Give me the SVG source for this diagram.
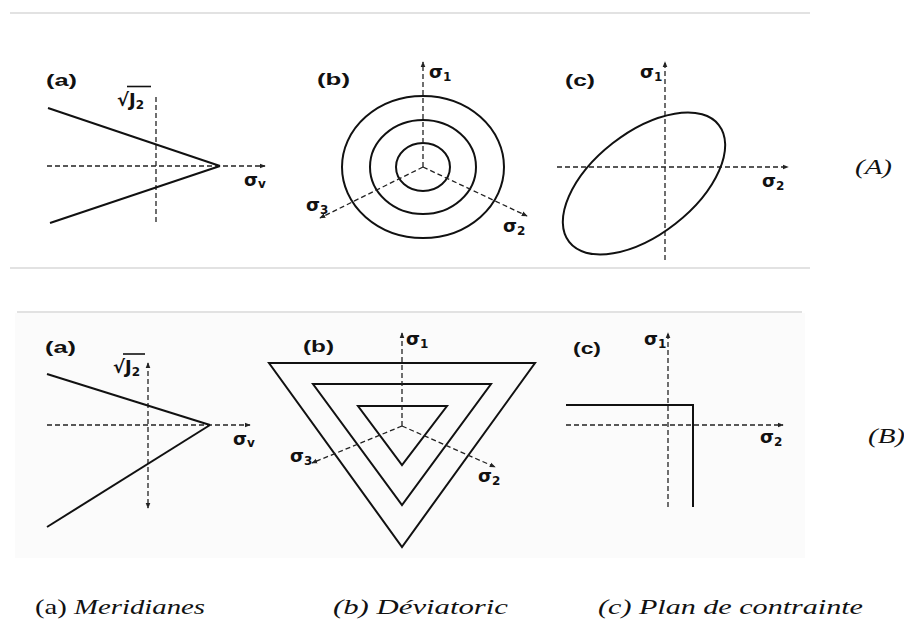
<svg xmlns="http://www.w3.org/2000/svg" width="904" height="619" viewBox="0 0 904 619">
<defs>
<marker id="ar" viewBox="0 0 8 8" refX="7" refY="4" markerWidth="6" markerHeight="6" orient="auto-start-reverse" markerUnits="userSpaceOnUse">
<path d="M0,0.8 L8,4 L0,7.2 Z" fill="#222"/>
</marker>
<style>
.sep{stroke:#e2e2e2;stroke-width:2;fill:none}
.axis{stroke:#222;stroke-width:1.3;stroke-dasharray:5 3;fill:none}
.curve{stroke:#111;stroke-width:2;fill:none}
.lbl{font-family:"Liberation Sans",Arial,sans-serif;font-weight:bold;font-size:17px;fill:#111}
.sig{font-family:"DejaVu Sans","Liberation Sans",sans-serif;font-weight:bold;font-size:18px;fill:#111}
.sub{font-size:12px}
.cap{font-family:"Liberation Serif","Times New Roman",serif;font-size:22px;fill:#111}
.it{font-style:italic}
</style>
</defs>
<rect width="904" height="619" fill="#fff"/>
<rect x="15" y="313" width="790" height="245" fill="#fbfbfb"/>
<g id="separators">
<line class="sep" x1="10" y1="13" x2="810" y2="13"/>
<line class="sep" x1="10" y1="268" x2="810" y2="268"/>
<line class="sep" x1="17" y1="312" x2="802" y2="312"/>
</g>

<!-- Panel A (a) -->
<g id="A-a">
<text class="lbl" x="46" y="86" textLength="31" lengthAdjust="spacingAndGlyphs">(a)</text>
<text class="sig" x="117" y="106">√J<tspan class="sub" dy="3">2</tspan></text>
<line x1="127" y1="86.5" x2="151" y2="86.5" stroke="#111" stroke-width="1.6"/>
<line class="axis" x1="156" y1="97" x2="156" y2="224"/>
<line class="axis" x1="47" y1="166" x2="265" y2="166" marker-end="url(#ar)"/>
<line class="curve" x1="48" y1="108" x2="220" y2="166"/>
<line class="curve" x1="50" y1="223" x2="220" y2="166"/>
<text class="sig" x="244" y="186">σ<tspan class="sub" dy="2">v</tspan></text>
</g>

<!-- Panel A (b) -->
<g id="A-b">
<text class="lbl" x="317" y="85" textLength="33" lengthAdjust="spacingAndGlyphs">(b)</text>
<ellipse class="curve" cx="423" cy="167" rx="81" ry="71"/>
<ellipse class="curve" cx="423" cy="167" rx="53" ry="47"/>
<ellipse class="curve" cx="423" cy="167" rx="27" ry="24"/>
<line class="axis" x1="423" y1="167" x2="423" y2="62" marker-end="url(#ar)"/>
<line class="axis" x1="423" y1="167" x2="320" y2="218" marker-end="url(#ar)"/>
<line class="axis" x1="423" y1="167" x2="527" y2="216" marker-end="url(#ar)"/>
<text class="sig" x="429" y="78">σ<tspan class="sub" dy="3">1</tspan></text>
<text class="sig" x="306" y="211">σ<tspan class="sub" dy="3">3</tspan></text>
<text class="sig" x="503" y="232">σ<tspan class="sub" dy="3">2</tspan></text>
</g>

<!-- Panel A (c) -->
<g id="A-c">
<text class="lbl" x="565" y="86" textLength="30" lengthAdjust="spacingAndGlyphs">(c)</text>
<line class="axis" x1="665" y1="260" x2="665" y2="62" marker-end="url(#ar)"/>
<line class="axis" x1="557" y1="167" x2="788" y2="167" marker-end="url(#ar)"/>
<ellipse class="curve" cx="0" cy="0" rx="95" ry="51" transform="translate(644 183.5) rotate(-38)"/>
<text class="sig" x="640" y="78">σ<tspan class="sub" dy="3">1</tspan></text>
<text class="sig" x="762" y="187">σ<tspan class="sub" dy="3">2</tspan></text>
<text class="cap it" x="855" y="174" textLength="37" lengthAdjust="spacingAndGlyphs">(A)</text>
</g>

<!-- Panel B (a) -->
<g id="B-a">
<text class="lbl" x="45" y="353" textLength="31" lengthAdjust="spacingAndGlyphs">(a)</text>
<text class="sig" x="113" y="373">√J<tspan class="sub" dy="3">2</tspan></text>
<line x1="123" y1="354" x2="145" y2="354" stroke="#111" stroke-width="1.6"/>
<line class="axis" x1="148" y1="363" x2="148" y2="508" marker-start="url(#ar)" marker-end="url(#ar)"/>
<line class="axis" x1="47" y1="425" x2="250" y2="425" marker-end="url(#ar)"/>
<line class="curve" x1="47" y1="374" x2="210" y2="425"/>
<line class="curve" x1="47" y1="527" x2="210" y2="425"/>
<text class="sig" x="233" y="445">σ<tspan class="sub" dy="2">v</tspan></text>
</g>

<!-- Panel B (b) -->
<g id="B-b">
<text class="lbl" x="303" y="352" textLength="31" lengthAdjust="spacingAndGlyphs">(b)</text>
<polygon class="curve" points="269,363 535,363 402,547"/>
<polygon class="curve" points="313,384 491,384 402,505"/>
<polygon class="curve" points="358,406 447,406 402,465"/>
<line class="axis" x1="402" y1="426" x2="402" y2="333" marker-end="url(#ar)"/>
<line class="axis" x1="402" y1="426" x2="312" y2="463" marker-end="url(#ar)"/>
<line class="axis" x1="402" y1="426" x2="495" y2="467" marker-end="url(#ar)"/>
<text class="sig" x="406" y="345">σ<tspan class="sub" dy="3">1</tspan></text>
<text class="sig" x="290" y="462">σ<tspan class="sub" dy="3">3</tspan></text>
<text class="sig" x="478" y="482">σ<tspan class="sub" dy="3">2</tspan></text>
</g>

<!-- Panel B (c) -->
<g id="B-c">
<text class="lbl" x="573" y="354" textLength="28" lengthAdjust="spacingAndGlyphs">(c)</text>
<line class="axis" x1="668" y1="507" x2="668" y2="333" marker-end="url(#ar)"/>
<line class="axis" x1="566" y1="425" x2="783" y2="425" marker-end="url(#ar)"/>
<polyline class="curve" points="566,405 693,405 693,507" stroke-width="1.6"/>
<text class="sig" x="644" y="345">σ<tspan class="sub" dy="3">1</tspan></text>
<text class="sig" x="760" y="443">σ<tspan class="sub" dy="3">2</tspan></text>
<text class="cap it" x="868" y="443" textLength="37" lengthAdjust="spacingAndGlyphs">(B)</text>
</g>

<!-- Captions -->
<g id="captions">
<text class="cap" x="35" y="614" textLength="170" lengthAdjust="spacingAndGlyphs">(a) <tspan class="it">Meridianes</tspan></text>
<text class="cap it" x="333" y="614" textLength="175" lengthAdjust="spacingAndGlyphs">(b)  Déviatoric</text>
<text class="cap it" x="598" y="614" textLength="265" lengthAdjust="spacingAndGlyphs">(c)  Plan de contrainte</text>
</g>
</svg>
